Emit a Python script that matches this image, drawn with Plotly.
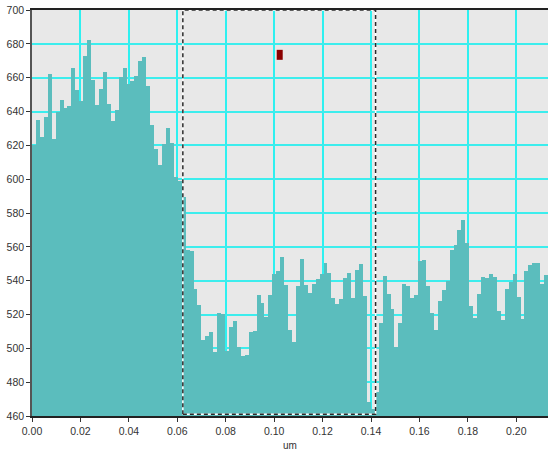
import plotly.graph_objects as go

# ---- data ----
bin_width = 0.001627
values = [
    620.2, 634.9, 624.8, 636.5, 662.4, 623.8, 639.7, 647.0, 641.9, 643.3,
    665.6, 652.8, 646.5, 672.7, 682.5, 658.6, 643.9, 653.4, 663.2, 644.5,
    634.1, 640.7, 660.5, 665.8, 656.0, 658.0, 661.0, 670.0, 672.0, 655.2,
    632.0, 618.0, 608.6, 620.5, 630.2, 621.4, 601.2, 599.0, 589.6, 558.4,
    557.4, 535.0, 525.8, 505.0, 507.4, 509.8, 497.9, 520.8, 520.2, 498.7,
    512.9, 516.0, 501.0, 495.6, 496.2, 509.4, 510.0, 531.7, 526.6, 518.7,
    531.4, 544.0, 545.5, 553.8, 537.6, 511.0, 504.0, 537.0, 553.0, 537.5,
    532.5, 538.0, 541.0, 544.0, 550.5, 544.5, 530.0, 526.0, 529.0, 541.6,
    544.5, 530.0, 546.5, 549.7, 531.0, 468.5, 464.4, 474.4, 515.0, 542.6,
    532.2, 523.5, 501.0, 514.7, 538.2, 537.0, 529.7, 531.3, 551.7, 552.2,
    537.0, 520.6, 510.8, 527.7, 534.5, 540.0, 558.4, 561.0, 570.0, 576.1,
    562.0, 524.8, 517.9, 532.0, 542.4, 541.6, 544.1, 542.0, 521.8, 516.7,
    535.0, 539.0, 544.1, 530.6, 517.4, 545.5, 549.2, 550.5, 550.5, 537.9,
    543.3,
]
x_centers = [(i + 0.5) * bin_width for i in range(len(values))]

x_ticks = [0.00, 0.02, 0.04, 0.06, 0.08, 0.10, 0.12, 0.14, 0.16, 0.18, 0.20]
y_ticks = [460, 480, 500, 520, 540, 560, 580, 600, 620, 640, 660, 680, 700]
x_title = "um"

sel_x = [0.0623, 0.1419]   # dashed selection box
sel_y = [461.0, 700.0]
marker_x = 0.1023          # small dark-red marker
marker_y = 673.5

x_range = [0, 0.2131]
y_range = [460, 700]

# ---- figure ----
fig = go.Figure()
fig.add_trace(go.Bar(
    x=x_centers, y=values, width=bin_width,
    base=0,
    marker=dict(color="#5BBDBD", line=dict(width=0)),
    hoverinfo="skip",
))

# selection box: white under-line + dark dashes
fig.add_shape(type="rect", xref="x", yref="y",
              x0=sel_x[0], x1=sel_x[1], y0=sel_y[0], y1=sel_y[1],
              line=dict(color="white", width=1.5), layer="above")
fig.add_shape(type="rect", xref="x", yref="y",
              x0=sel_x[0], x1=sel_x[1], y0=sel_y[0], y1=sel_y[1],
              line=dict(color="#2A2A2A", width=1.5, dash="4px,3px"), layer="above")

# marker square (pixel-sized, anchored on data point)
fig.add_shape(type="rect", xref="x", yref="y",
              xsizemode="pixel", ysizemode="pixel",
              xanchor=marker_x, yanchor=marker_y,
              x0=-3, x1=3, y0=-5, y1=5,
              fillcolor="#8B0000", line=dict(width=0), layer="above")

tick_font = dict(family="Liberation Sans, Arial, sans-serif", size=10.5, color="#333333")

fig.update_layout(
    width=548, height=455,
    margin=dict(l=32, r=0, t=10, b=39, autoexpand=False),
    paper_bgcolor="white",
    plot_bgcolor="#E8E8E8",
    bargap=0,
    showlegend=False,
    xaxis=dict(
        range=x_range, tickvals=x_ticks, ticktext=[f"{v:.2f}" for v in x_ticks],
        showgrid=True, gridcolor="#2EF0F0", gridwidth=1.5,
        zeroline=False,
        showline=True, linecolor="#222222", linewidth=2, mirror=True,
        ticks="outside", ticklen=4, tickcolor="#333333",
        tickfont=tick_font,
        title=dict(text=x_title, font=dict(family="Liberation Sans, Arial, sans-serif", size=10, color="#333333"), standoff=6),
    ),
    yaxis=dict(
        range=y_range, tickvals=y_ticks,
        showgrid=True, gridcolor="#3CEDED", gridwidth=2,
        zeroline=False,
        showline=True, linecolor="#555555", linewidth=1.5,
        ticks="outside", ticklen=4, tickcolor="#333333",
        tickfont=tick_font,
    ),
)

fig.write_html("out.html", config={"displayModeBar": False},
               post_script="document.body.style.margin='0';document.body.style.overflow='hidden';")
